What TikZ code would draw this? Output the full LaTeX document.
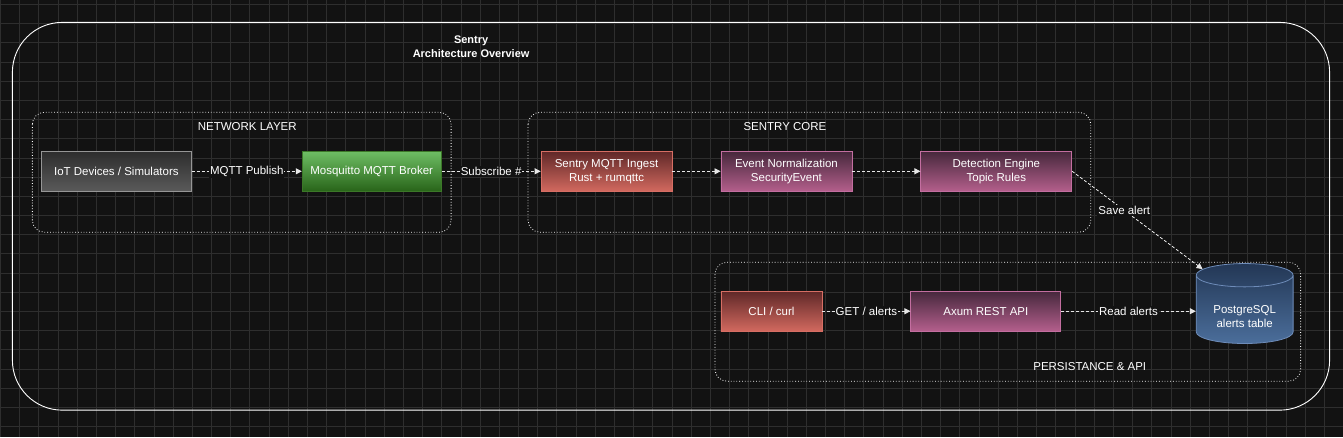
\documentclass[tikz,border=0pt]{standalone}
\usepackage{fontspec}
\setmainfont{Liberation Sans}
\usetikzlibrary{shapes.geometric, arrows.meta}

\definecolor{bgdark}{HTML}{121212}
\definecolor{gridcol}{HTML}{2E2E2E}
\definecolor{edgecol}{HTML}{E6E6E6}

\tikzset{
  box/.style={draw, line width=0.8pt, minimum width=#1, minimum height=40, inner sep=2pt,
    align=center, text=white, font=\fontsize{11.5}{14}\selectfont},
  box/.default=131,
  grey box/.style={box=150, draw={rgb,255:red,150;green,150;blue,150}, top color={rgb,255:red,45;green,45;blue,45}, bottom color={rgb,255:red,90;green,90;blue,90}},
  green box/.style={box=139, draw={rgb,255:red,60;green,120;blue,40}, top color={rgb,255:red,110;green,190;blue,100}, bottom color={rgb,255:red,40;green,100;blue,25}},
  red box/.style={box=#1, draw={rgb,255:red,215;green,110;blue,100}, top color={rgb,255:red,95;green,40;blue,40}, bottom color={rgb,255:red,210;green,105;blue,95}},
  red box/.default=131,
  purple box/.style={box=#1, draw={rgb,255:red,195;green,110;blue,160}, top color={rgb,255:red,70;green,40;blue,60}, bottom color={rgb,255:red,180;green,95;blue,140}},
  purple box/.default=131,
  group/.style={draw=white, dotted, line width=0.8pt, rounded corners=12},
  group label/.style={text=white, font=\fontsize{11.5}{13}\selectfont},
  flow/.style={draw=edgecol, dashed, dash pattern=on 3pt off 2pt, line width=0.8pt, -{Triangle[length=6pt,width=6pt]}},
  flow label/.style={fill=bgdark, text=white, inner sep=1pt, font=\fontsize{11.5}{13}\selectfont},
}

\begin{document}
\begin{tikzpicture}[x=1pt,y=-1pt]
% background and grid
\fill[bgdark] (0,0) rectangle (1343,437);
\foreach \gx in {0,19.2,...,1343} \draw[gridcol, line width=0.8pt] (\gx,0) -- (\gx,437);
\foreach \gy in {4,23.2,...,437} \draw[gridcol, line width=0.8pt] (0,\gy) -- (1343,\gy);
\useasboundingbox (0,0) rectangle (1343,437);

% outer frame
\draw[white, line width=0.9pt, rounded corners=50] (12,22) rectangle (1330,410);
\node[text=white, font=\bfseries\fontsize{11}{14}\selectfont, align=center] (title) at (471,46) {Sentry\\Architecture Overview};

% groups
\draw[group] (32,112) rectangle (451,232);
\node[group label] (netlbl) at (247,126) {NETWORK LAYER};
\draw[group] (528,112) rectangle (1091,232);
\node[group label] (corelbl) at (785,126) {SENTRY CORE};
\draw[group] (715,262) rectangle (1301,381);
\node[group label] (perslbl) at (1090,366) {PERSISTANCE \& API};

% nodes
\node[grey box] (iot) at (116,171) {IoT Devices / Simulators};
\node[green box] (broker) at (371.5,171) {Mosquitto MQTT Broker};
\node[red box] (ingest) at (606.5,171) {Sentry MQTT Ingest\\Rust + rumqttc};
\node[purple box] (norm) at (786.5,171) {Event Normalization\\SecurityEvent};
\node[purple box=151] (detect) at (996.5,171) {Detection Engine\\Topic Rules};
\node[red box=101] (cli) at (771.5,311) {CLI / curl};
\node[purple box=150] (api) at (986,311) {Axum REST API};
\node[cylinder, shape border rotate=90, aspect=0.35, minimum width=97, minimum height=80,
  draw={rgb,255:red,110;green,140;blue,185}, line width=0.8pt,
  top color={rgb,255:red,35;green,55;blue,85}, bottom color={rgb,255:red,75;green,110;blue,155},
  text=white, align=center, font=\fontsize{11.5}{14}\selectfont, inner sep=2pt] (db) at (1245,311) {\\[4pt]PostgreSQL\\alerts table};

% connectors
\draw[flow] (iot) -- node[flow label] {MQTT Publish} (broker);
\draw[flow] (broker) -- node[flow label] {Subscribe \#} (ingest);
\draw[flow] (ingest) -- (norm);
\draw[flow] (norm) -- (detect);
\draw[flow] (detect.east) -- node[flow label, pos=0.4] {Save alert} (db.north west);
\draw[flow] (cli) -- node[flow label] {GET / alerts} (api);
\draw[flow] (api) -- node[flow label] {Read alerts} (db);
\end{tikzpicture}
\end{document}
